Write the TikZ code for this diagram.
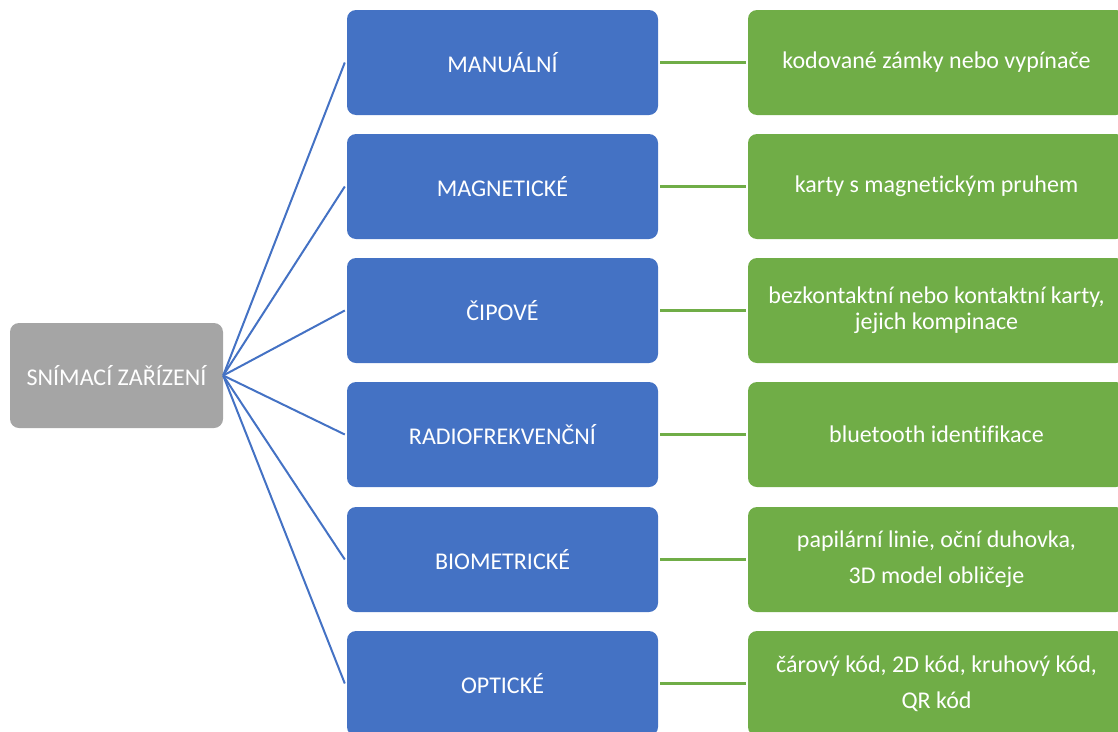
\documentclass[tikz,border=0pt]{standalone}
\usepackage{fontspec}
\setmainfont{Carlito}[Ligatures=NoCommon]
\definecolor{gbox}{HTML}{A5A5A5}
\definecolor{bbox}{HTML}{4472C4}
\definecolor{grbox}{HTML}{70AD47}
\begin{document}
\begin{tikzpicture}[x=1pt,y=-1pt,
  basebox/.style={rounded corners=9pt,text=white,font=\fontsize{24}{26}\selectfont,align=center,inner sep=0pt},
  graybox/.style={basebox,fill=gbox,minimum width=213pt,minimum height=105pt},
  bluebox/.style={basebox,fill=bbox,minimum width=311pt,minimum height=105pt},
  greenbox/.style={basebox,fill=grbox,minimum width=377pt,minimum height=105pt},
  bline/.style={draw=bbox,line width=2pt},
  gline/.style={draw=grbox,line width=2.5pt}]
\useasboundingbox (0,0) rectangle (1118,731);
\node[graybox] (root) at (116.5,375.5) {SNÍMACÍ ZAŘÍZENÍ};
\foreach \i/\y/\t in {1/62.5/MANUÁLNÍ,2/186.5/MAGNETICKÉ,3/310.5/ČIPOVÉ,4/434.5/RADIOFREKVENČNÍ,5/559.5/BIOMETRICKÉ,6/683.5/OPTICKÉ}{
  \node[bluebox] (b\i) at (502.5,\y) {\t};
}
\node[greenbox] (g1) at (936.5,62.5) {kodované zámky nebo vypínače};
\node[greenbox] (g2) at (936.5,186.5) {karty s magnetickým pruhem};
\node[greenbox] (g3) at (936.5,310.5) {bezkontaktní nebo kontaktní karty,\\jejich kompinace};
\node[greenbox] (g4) at (936.5,434.5) {bluetooth identifikace};
\node[greenbox,font=\fontsize{24}{36}\selectfont] (g5) at (936.5,559.5) {papilární linie, oční duhovka,\\3D model obličeje};
\node[greenbox,font=\fontsize{24}{36}\selectfont] (g6) at (936.5,683.5) {čárový kód, 2D kód, kruhový kód,\\QR kód};
\foreach \i in {1,...,6}{
  \draw[bline] (root.east) -- ([xshift=-2pt]b\i.west);
  \draw[gline] ([xshift=2pt]b\i.east) -- ([xshift=-2pt]g\i.west);
}
\end{tikzpicture}
\end{document}
